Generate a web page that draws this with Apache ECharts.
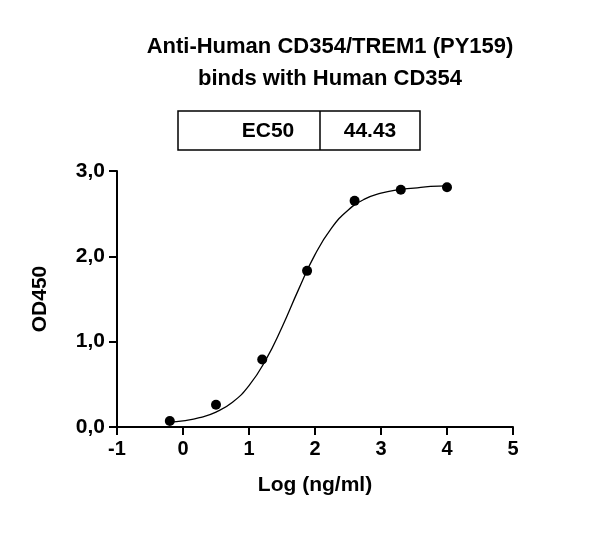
<!DOCTYPE html>
<html>
<head>
<meta charset="utf-8">
<script src="https://cdn.jsdelivr.net/npm/echarts@6/dist/echarts.min.js"></script>
<style>html,body{margin:0;background:#fff}#chart{width:600px;height:541px}</style>
</head>
<body>
<div id="chart"></div>
<script>
// 测量点 (log 浓度, OD450)
var pointX = [-0.2, 0.5, 1.2, 1.88, 2.6, 3.3, 4.0];
var pointY = [0.07, 0.26, 0.79, 1.83, 2.65, 2.78, 2.81];

// 拟合曲线 (读图所得)
var curveX = [-0.2, 0, 0.25, 0.5, 0.75, 1, 1.25, 1.5, 1.75, 2, 2.25, 2.5, 2.75, 3, 3.25, 3.5, 3.75, 4];
var curveY = [0.056, 0.073, 0.109, 0.175, 0.29, 0.485, 0.78, 1.17, 1.61, 2.02, 2.33, 2.54, 2.67, 2.74, 2.78, 2.80, 2.82, 2.826];

var ec50Label = 'EC50';
var ec50Value = '44.43';

function zip(xs, ys) {
  return xs.map(function (x, i) { return [x, ys[i]]; });
}

var chart = echarts.init(document.getElementById('chart'));
var font = 'Liberation Sans, Arial, sans-serif';

chart.setOption({
  animation: false,
  title: {
    text: 'Anti-Human CD354/TREM1 (PY159)\nbinds with Human CD354',
    left: 325, top: 26, textAlign: 'center',
    textStyle: { fontFamily: font, fontSize: 22, fontWeight: 'bold', color: '#000', lineHeight: 32 }
  },
  graphic: [
    { type: 'rect', shape: { x: 178, y: 111, width: 242, height: 39 }, style: { fill: '#fff', stroke: '#000', lineWidth: 1.5 } },
    { type: 'line', shape: { x1: 320, y1: 111, x2: 320, y2: 150 }, style: { stroke: '#000', lineWidth: 1.5 } },
    { type: 'text', x: 268, y: 131, style: { text: ec50Label, font: 'bold 21px ' + font, fill: '#000', align: 'center', verticalAlign: 'middle' } },
    { type: 'text', x: 370, y: 131, style: { text: ec50Value, font: 'bold 21px ' + font, fill: '#000', align: 'center', verticalAlign: 'middle' } }
  ],
  grid: { left: 117, right: 87, top: 171, bottom: 114 },
  xAxis: {
    type: 'value', min: -1, max: 5, interval: 1,
    name: 'Log (ng/ml)', nameLocation: 'middle', nameGap: 48,
    nameTextStyle: { fontFamily: font, fontSize: 21, fontWeight: 'bold', color: '#000' },
    axisLine: { onZero: false, lineStyle: { color: '#000', width: 2 } },
    axisTick: { length: 8, lineStyle: { color: '#000', width: 2 } },
    axisLabel: { fontFamily: font, fontSize: 20, fontWeight: 'bold', color: '#000', margin: 12 },
    splitLine: { show: false }
  },
  yAxis: {
    type: 'value', min: 0, max: 3, interval: 1,
    name: 'OD450', nameLocation: 'middle', nameGap: 66,
    nameTextStyle: { fontFamily: font, fontSize: 21, fontWeight: 'bold', color: '#000' },
    axisLine: { show: true, onZero: false, lineStyle: { color: '#000', width: 2 } },
    axisTick: { show: true, length: 8, lineStyle: { color: '#000', width: 2 } },
    axisLabel: {
      fontFamily: font, fontSize: 21, fontWeight: 'bold', color: '#000', margin: 12,
      formatter: function (v) { return v.toFixed(1).replace('.', ','); }
    },
    splitLine: { show: false }
  },
  series: [
    {
      type: 'line', data: zip(curveX, curveY), smooth: true, showSymbol: false,
      lineStyle: { color: '#000', width: 1.3 }
    },
    {
      type: 'scatter', data: zip(pointX, pointY), symbolSize: 10,
      itemStyle: { color: '#000', opacity: 1 }
    }
  ]
});
</script>
</body>
</html>
